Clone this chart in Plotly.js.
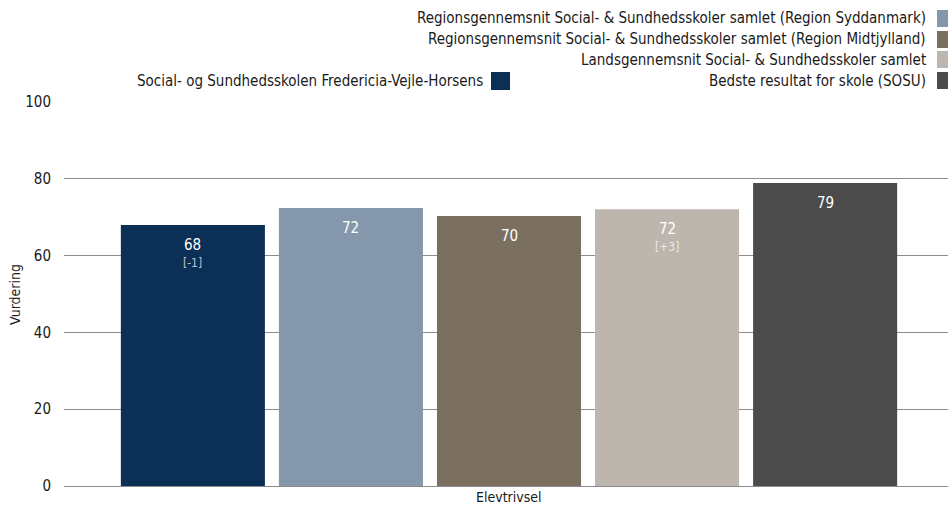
<!DOCTYPE html>
<html>
<head>
<meta charset="utf-8">
<script src="https://cdn.plot.ly/plotly-3.0.1.min.js"></script>
<style>html,body{margin:0;padding:0;background:#fff;}#chart{width:948px;height:507px;}</style>
</head>
<body>
<div id="chart"></div>
<script>
// ---- data ----
const category = ["Elevtrivsel"];
const seriesNames = [
  "Social- og Sundhedsskolen Fredericia-Vejle-Horsens",
  "Regionsgennemsnit Social- & Sundhedsskoler samlet (Region Syddanmark)",
  "Regionsgennemsnit Social- & Sundhedsskoler samlet (Region Midtjylland)",
  "Landsgennemsnit Social- & Sundhedsskoler samlet",
  "Bedste resultat for skole (SOSU)"
];
const seriesValues = [68.0, 72.4, 70.3, 72.1, 78.9];
const seriesLabels = ["68", "72", "70", "72", "79"];
const seriesChanges = ["-1", "", "", "+3", ""];
const seriesColors = ["#0c2f55", "#8497ab", "#7b705f", "#bdb6af", "#4b4b4b"];
const yTicks = [0, 20, 40, 60, 80, 100];
const yTitle = "Vurdering";

// ---- layout helpers ----
const W = 948, H = 507;
const M = {l: 64, r: 0, t: 102, b: 21};
const pw = W - M.l - M.r, ph = H - M.t - M.b;
const px = x => (x - M.l) / pw;
const py = y => (H - M.b - y) / ph;
const FONT = "DejaVu Sans Condensed, DejaVu Sans, sans-serif";
const TXT = "#1a1a1a";

const BARGAP = 0.106, GROUPGAP = 0.0886;
const shift = 3 / pw;
const slot = (1 - BARGAP) / seriesNames.length; // in category units

const traces = seriesNames.map((name, i) => ({
  type: "bar",
  name: name,
  x: category,
  y: [seriesValues[i]],
  marker: {color: seriesColors[i]},
  hoverinfo: "none",
  showlegend: false
}));

const annotations = [];
const shapes = [];

// value labels inside bars
seriesValues.forEach((v, i) => {
  const xc = (i - (seriesNames.length - 1) / 2) * slot;
  annotations.push({xref: "x", yref: "y", x: xc, y: v, xanchor: "center", yanchor: "top", yshift: -9,
    text: seriesLabels[i], showarrow: false, font: {family: FONT, size: 15, color: "#ffffff"}});
  if (seriesChanges[i]) {
    annotations.push({xref: "x", yref: "y", x: xc, y: v, xanchor: "center", yanchor: "top", yshift: -29,
      text: "[" + seriesChanges[i] + "]", showarrow: false, font: {family: FONT, size: 12, color: "rgba(255,255,255,0.72)"}});
  }
});

// custom legend: right column (series 1-4), left item (series 0)
const rightRows = [18.5, 39.5, 59.5, 80.5];
for (let k = 1; k < seriesNames.length; k++) {
  const yc = rightRows[k - 1];
  annotations.push({xref: "paper", yref: "paper", x: px(928), y: py(yc), xanchor: "right", yanchor: "middle",
    text: seriesNames[k], showarrow: false, font: {family: FONT, size: 15, color: TXT}});
  shapes.push({type: "rect", xref: "paper", yref: "paper", x0: px(937), x1: px(956), y0: py(yc - 8.5), y1: py(yc + 8.5),
    fillcolor: seriesColors[k], line: {width: 0}});
}
annotations.push({xref: "paper", yref: "paper", x: px(485), y: py(81), xanchor: "right", yanchor: "middle",
  text: seriesNames[0], showarrow: false, font: {family: FONT, size: 15, color: TXT}});
shapes.push({type: "rect", xref: "paper", yref: "paper", x0: px(491), x1: px(510), y0: py(72), y1: py(90),
  fillcolor: seriesColors[0], line: {width: 0}});

// axis titles
annotations.push({xref: "paper", yref: "paper", x: px(509), y: py(497), xanchor: "center", yanchor: "middle",
  text: category[0], showarrow: false, font: {family: FONT, size: 14, color: TXT}});
annotations.push({xref: "paper", yref: "paper", x: px(15), y: py(295), xanchor: "center", yanchor: "middle", textangle: -90,
  text: yTitle, showarrow: false, font: {family: FONT, size: 14, color: TXT}});

const layout = {
  width: W, height: H,
  margin: M,
  paper_bgcolor: "#fff", plot_bgcolor: "#fff",
  barmode: "group",
  bargap: BARGAP,
  bargroupgap: GROUPGAP,
  showlegend: false,
  font: {family: FONT, size: 14, color: TXT},
  xaxis: {
    type: "category",
    range: [-0.5 - shift, 0.5 - shift],
    showgrid: false, zeroline: false, showline: false,
    showticklabels: false, ticks: "",
    automargin: false
  },
  yaxis: {
    range: [0, 100],
    tickvals: yTicks,
    ticktext: yTicks.map(String),
    showgrid: true, gridcolor: "#8c8c8c", gridwidth: 1,
    zeroline: true, zerolinecolor: "#8c8c8c", zerolinewidth: 1,
    showline: false,
    ticks: "",
    ticklabelstandoff: 12,
    tickfont: {family: FONT, size: 15, color: TXT},
    automargin: false
  },
  annotations: annotations,
  shapes: shapes
};

Plotly.newPlot("chart", traces, layout, {staticPlot: true, displayModeBar: false});
</script>
</body>
</html>
